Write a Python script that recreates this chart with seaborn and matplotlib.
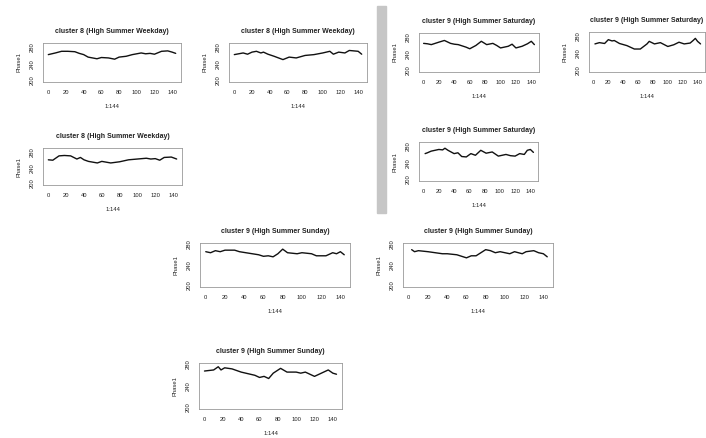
import numpy as np
import pandas as pd
import matplotlib
matplotlib.use("Agg")
import matplotlib.pyplot as plt
import seaborn as sns
from matplotlib.patches import Rectangle

sns.set_style("white")
plt.rcParams["font.family"] = ["Liberation Sans", "DejaVu Sans"]

# valores (eje x 1:144)
weekday_a_x = [0, 8, 15, 22, 30, 35, 40, 45, 55, 60, 68, 75, 80, 88, 95, 105, 110, 115, 120, 128, 135, 140, 144]
weekday_a_y = [262, 266, 270, 270, 269, 265, 262, 256, 252, 255, 254, 251, 256, 258, 262, 266, 264, 265, 263, 270, 271, 268, 265]

weekday_b_x = [0, 5, 10, 15, 20, 25, 30, 33, 38, 45, 55, 62, 70, 80, 90, 100, 108, 112, 118, 125, 130, 135, 140, 144]
weekday_b_y = [262, 264, 266, 263, 268, 270, 266, 268, 263, 258, 250, 256, 254, 260, 262, 266, 270, 263, 268, 266, 272, 271, 270, 263]

weekday_c_x = [0, 5, 12, 18, 25, 32, 36, 40, 45, 55, 60, 70, 80, 90, 100, 110, 115, 120, 125, 130, 138, 144]
weekday_c_y = [260, 259, 270, 271, 270, 262, 266, 260, 256, 252, 256, 252, 255, 260, 262, 264, 262, 263, 259, 266, 267, 262]

saturday_a_x = [0, 5, 10, 15, 20, 27, 35, 40, 45, 55, 60, 68, 75, 82, 90, 95, 100, 110, 115, 120, 128, 135, 140, 144]
saturday_a_y = [265, 264, 262, 265, 268, 272, 265, 263, 262, 256, 252, 260, 270, 262, 265, 260, 254, 258, 263, 254, 258, 264, 270, 262]

saturday_b_x = [2, 8, 15, 20, 25, 28, 35, 45, 55, 63, 72, 75, 82, 90, 100, 108, 115, 122, 130, 134, 137, 140, 144]
saturday_b_y = [262, 265, 263, 272, 269, 270, 263, 258, 250, 250, 262, 268, 262, 265, 256, 260, 266, 262, 264, 270, 275, 268, 262]

saturday_c_x = [2, 5, 10, 15, 20, 25, 28, 32, 40, 45, 50, 56, 62, 68, 75, 82, 90, 98, 108, 114, 120, 126, 132, 136, 140, 144]
saturday_c_y = [262, 264, 268, 270, 272, 271, 275, 270, 262, 264, 255, 254, 262, 258, 270, 263, 266, 256, 260, 257, 256, 262, 260, 270, 272, 265]

sunday_a_x = [0, 5, 10, 15, 20, 30, 35, 45, 55, 60, 65, 70, 75, 80, 85, 95, 100, 110, 115, 125, 132, 136, 140, 144]
sunday_a_y = [266, 264, 268, 266, 269, 269, 266, 263, 260, 257, 258, 256, 262, 271, 264, 262, 264, 262, 258, 258, 264, 262, 266, 260]

sunday_b_x = [3, 6, 10, 20, 35, 40, 50, 60, 65, 70, 75, 80, 85, 90, 95, 100, 105, 110, 118, 122, 130, 135, 140, 144]
sunday_b_y = [270, 266, 268, 266, 262, 262, 260, 254, 258, 258, 264, 270, 268, 264, 266, 264, 262, 266, 262, 266, 268, 264, 262, 256]

sunday_c_x = [0, 5, 10, 15, 18, 22, 30, 40, 45, 55, 60, 65, 70, 75, 83, 90, 100, 105, 110, 120, 125, 130, 135, 140, 144]
sunday_c_y = [268, 269, 270, 276, 270, 274, 272, 266, 264, 260, 256, 258, 254, 264, 273, 266, 266, 264, 266, 258, 262, 266, 270, 264, 262]

titulos = ["cluster 8 (High Summer Weekday)", "cluster 9 (High Summer Saturday)", "cluster 9 (High Summer Sunday)"]
x_ticks = [0, 20, 40, 60, 80, 100, 120, 140]
y_ticks = [200, 240, 280]

W, H = 706, 438
fig = plt.figure(figsize=(W / 100, H / 100), dpi=100)


def caja(l, t, r, b):
    return [l / W, 1 - b / H, (r - l) / W, (b - t) / H]


def panel(box, xs, ys, titulo, ylim):
    ax = fig.add_axes(caja(*box))
    df = pd.DataFrame({"t": xs, "v": ys})
    sns.lineplot(data=df, x="t", y="v", ax=ax, color="#111111", linewidth=1.0)
    ax.set_xlim(-6, 150)
    ax.set_ylim(*ylim)
    ax.set_xticks(x_ticks)
    ax.set_yticks(y_ticks)
    ax.set_yticks([220, 260], minor=True)
    ax.set_yticklabels([str(v) for v in y_ticks], rotation=90, va="center")
    ax.tick_params(axis="both", labelsize=4.2, length=2, width=0.5, pad=4, colors="#222222")
    ax.tick_params(axis="y", which="minor", length=2, width=0.5, colors="#222222")
    for s in ax.spines.values():
        s.set_color("#999999")
        s.set_linewidth(0.6)
    ax.set_title(titulo, fontsize=5, fontweight="bold", color="#222222", pad=7)
    ax.set_xlabel("1:144", fontsize=4.2, color="#222222", labelpad=6)
    ax.set_ylabel("Phase1", fontsize=4.2, color="#222222", labelpad=6)
    return ax


panel((43, 43, 181, 82), weekday_a_x, weekday_a_y, titulos[0], (196, 290))
panel((229, 43, 367, 82), weekday_b_x, weekday_b_y, titulos[0], (196, 290))
panel((43, 148, 182, 185), weekday_c_x, weekday_c_y, titulos[0], (196, 290))
panel((419, 33, 539, 72), saturday_a_x, saturday_a_y, titulos[1], (196, 290))
panel((589, 32, 705, 72), saturday_b_x, saturday_b_y, titulos[1], (196, 290))
panel((419, 142, 538, 181), saturday_c_x, saturday_c_y, titulos[1], (196, 290))
panel((200, 243, 350, 287), sunday_a_x, sunday_a_y, titulos[2], (197, 283))
panel((403, 243, 553, 287), sunday_b_x, sunday_b_y, titulos[2], (197, 283))
panel((199, 363, 342, 409), sunday_c_x, sunday_c_y, titulos[2], (197, 283))

# barra gris separadora
fig.patches.append(Rectangle((377 / W, 1 - 213 / H), 9 / W, 207 / H,
                             transform=fig.transFigure, color="#c6c6c6", zorder=0))

fig.savefig("out.png", dpi=100)
